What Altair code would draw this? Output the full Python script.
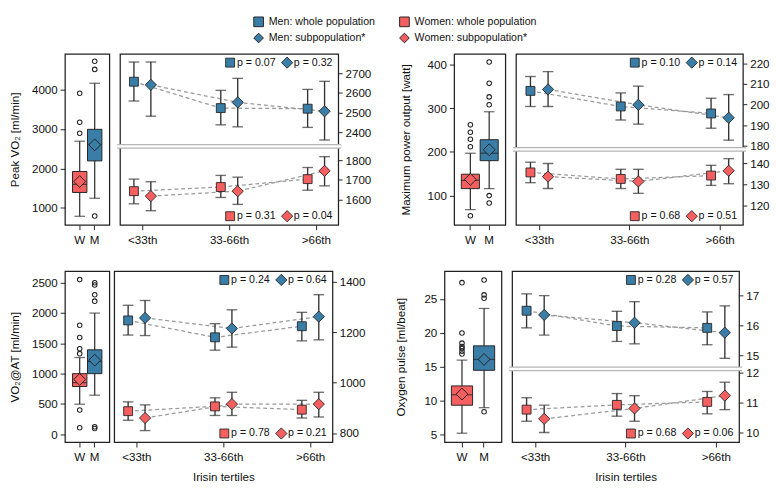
import altair as alt
import pandas as pd

FONT = "Liberation Sans, Arial, Helvetica, sans-serif"
BLUE = "#3a7ea8"
RED = "#f65f5f"
INK = "#222222"
WHISK = "#333333"

tertile_labels = ["<33th", "33-66th", ">66th"]
series_names = ["Men: whole population", "Men: subpopulation*",
                "Women: whole population", "Women: subpopulation*"]
series_colors = [BLUE, BLUE, RED, RED]
series_shapes = ["square", "diamond", "square", "diamond"]

# box stats: [whisker low, q1, median, q3, whisker high, mean]
# tertile values: [mean, lower, upper]

# ---- Peak VO2 ----
peak_box_W = [787, 1392, 1597, 1924, 2692, 1670]
peak_box_M = [1245, 2193, 2610, 2994, 4163, 2600]
peak_out_W = [3910, 3174, 2896]
peak_out_M = [4720, 4515, 795]
peak_men_whole = [[2657, 2559, 2757], [2523, 2438, 2613], [2520, 2425, 2618]]
peak_men_sub = [[2641, 2482, 2757], [2552, 2428, 2674], [2507, 2361, 2659]]
peak_women_whole = [[1643, 1579, 1704], [1664, 1611, 1723], [1704, 1648, 1763]]
peak_women_sub = [[1618, 1544, 1691], [1643, 1576, 1714], [1746, 1670, 1818]]
peak_p = ["0.07", "0.32", "0.31", "0.04"]

# ---- Maximum power output ----
power_box_W = [68, 116, 135, 149, 197, 137]
power_box_M = [116, 180, 197, 228, 292, 205]
power_out_W = [262, 245, 229, 212, 54]
power_out_M = [406, 357, 326, 308, 100, 83]
power_men_whole = [[206.7, 199.1, 213.7], [199.1, 192.5, 205.7], [195.7, 188.5, 203.1]]
power_men_sub = [[207.4, 199.1, 216.1], [199.9, 190.5, 209.0], [193.6, 182.7, 204.9]]
power_women_whole = [[135.7, 130.8, 140.6], [132.6, 128.0, 137.2], [134.2, 129.5, 139.1]]
power_women_sub = [[133.7, 128.0, 140.0], [131.4, 125.7, 137.2], [136.5, 130.3, 142.3]]
power_p = ["0.10", "0.14", "0.68", "0.51"]

# ---- VO2 at AT ----
at_box_W = [495, 787, 851, 1000, 1266, 904]
at_box_M = [644, 1000, 1202, 1394, 2000, 1223]
at_out_W = [2553, 1798, 1596, 1410, 1330, 399, 106]
at_out_M = [2500, 2463, 2303, 2197, 122, 95]
at_men_whole = [[1247, 1189, 1307], [1180, 1129, 1234], [1224, 1166, 1279]]
at_men_sub = [[1257, 1187, 1326], [1215, 1141, 1289], [1262, 1170, 1349]]
at_women_whole = [[887, 851, 924], [906, 870, 940], [893, 860, 930]]
at_women_sub = [[860, 810, 912], [915, 870, 962], [915, 864, 962]]
at_p = ["0.24", "0.64", "0.78", "0.21"]

# ---- Oxygen pulse ----
pulse_box_W = [5.24, 9.36, 10.9, 12.2, 16.0, 11.0]
pulse_box_M = [9.0, 14.5, 16.1, 18.1, 23.6, 16.1]
pulse_out_W = [27.4, 20.0, 18.5, 18.0, 17.7, 17.3, 16.9]
pulse_out_M = [27.8, 25.6, 25.1, 8.4]
pulse_men_whole = [[16.49, 15.92, 17.05], [15.98, 15.47, 16.47], [15.92, 15.36, 16.45]]
pulse_men_sub = [[16.35, 15.68, 16.99], [16.09, 15.39, 16.79], [15.76, 14.91, 16.65]]
pulse_women_whole = [[10.76, 10.37, 11.16], [10.92, 10.54, 11.30], [11.02, 10.62, 11.37]]
pulse_women_sub = [[10.45, 9.99, 10.91], [10.80, 10.37, 11.23], [11.23, 10.76, 11.68]]
pulse_p = ["0.28", "0.57", "0.68", "0.06"]

H = 177

LEG = alt.Legend(title=None, orient="none", legendX=195, legendY=-39, columns=2,
                 columnPadding=22, rowPadding=2, labelFontSize=11, labelFont=FONT,
                 labelColor="#111", symbolSize=100, symbolStrokeColor=INK,
                 symbolStrokeWidth=1, labelOffset=5, padding=0)

label_expr = "datum.value == 1 ? '%s' : (datum.value == 2 ? '%s' : '%s')" % tuple(tertile_labels)


def box_panel(cfg, stats_W, stats_M, out_W, out_M, title):
    keys = ["lo", "q1", "med", "q3", "hi", "mean"]
    rW = dict(zip(keys, stats_W)); rW.update(sex="W", fill=RED)
    rM = dict(zip(keys, stats_M)); rM.update(sex="M", fill=BLUE)
    df = pd.DataFrame([rW, rM])
    odf = pd.DataFrame([{"sex": "W", "v": v} for v in out_W] + [{"sex": "M", "v": v} for v in out_M])
    bw, po = cfg["box_w"], cfg["po"]
    step = bw / (2 + 2 * po)
    X = alt.X("sex:N", sort=["W", "M"],
              scale=alt.Scale(domain=["W", "M"], paddingInner=0.04, paddingOuter=po),
              axis=alt.Axis(title=None, labelAngle=0, tickSize=5, labelPadding=5, domain=False, grid=False))
    ysc = alt.Scale(domain=cfg["box_dom"], nice=False, zero=False)
    yax = alt.Axis(values=cfg["box_ticks"], format="d", title=title, titleX=cfg["titleX"], titleY=H / 2,
                   titleAngle=-90, titleAlign="center", titleBaseline="bottom", labelOverlap=False,
                   tickSize=5, labelPadding=3, domain=False, grid=False)

    def Y(field):
        return alt.Y(field, scale=ysc, axis=yax, title=title)

    base = alt.Chart(df)
    whisk = base.mark_rule(color=WHISK, strokeWidth=1.3).encode(x=X, y=Y("lo:Q"), y2="hi:Q")
    cap_lo = base.mark_tick(orient="horizontal", size=11, thickness=1.3, color=WHISK).encode(
        x=X, y=Y("lo:Q"))
    cap_hi = base.mark_tick(orient="horizontal", size=11, thickness=1.3, color=WHISK).encode(
        x=X, y=Y("hi:Q"))
    box = base.mark_bar(stroke=INK, strokeWidth=1, opacity=1).encode(
        x=X, y=Y("q1:Q"), y2="q3:Q", color=alt.Color("fill:N", scale=None))
    med = base.mark_tick(orient="horizontal", size=step * 0.96, thickness=1.3, color=INK).encode(
        x=X, y=Y("med:Q"))
    mean = base.mark_point(shape="diamond", filled=True, size=150, stroke=INK, strokeWidth=1,
                           opacity=1).encode(
        x=X, y=Y("mean:Q"), color=alt.Color("fill:N", scale=None))
    outl = alt.Chart(odf).mark_point(shape="circle", size=22, filled=False, color=INK,
                                     strokeWidth=1.1, opacity=1).encode(
        x=X, y=Y("v:Q"))
    return alt.layer(whisk, cap_lo, cap_hi, box, med, mean, outl).properties(width=bw, height=H)


def main_panel(cfg, men_whole, men_sub, women_whole, women_sub, pvals, xtitle):
    rows = []
    for sex, grp, vals in [("Men", "whole", men_whole), ("Men", "sub", men_sub),
                           ("Women", "whole", women_whole), ("Women", "sub", women_sub)]:
        name = "%s: %s" % (sex, "whole population" if grp == "whole" else "subpopulation*")
        for i, (m, lo, hi) in enumerate(vals):
            rows.append(dict(sex=sex, grp=grp, series=name, t=i + 1, mean=m, lo=lo, hi=hi))
    df = pd.DataFrame(rows)
    W = cfg["main_w"]
    xax = alt.Axis(values=[1, 2, 3], labelExpr=label_expr, title=xtitle, tickSize=5,
                   labelPadding=5, domain=False, grid=False, titlePadding=10)
    X = alt.X("xpos:Q", scale=alt.Scale(domain=[0.745, 3.258], nice=False, zero=False), axis=xax)
    layers = []
    for sex, dom, ticks in [("Men", cfg["men_dom"], cfg["men_ticks"]),
                            ("Women", cfg["women_dom"], cfg["women_ticks"])]:
        base = alt.Chart(df).transform_filter(alt.datum.sex == sex).transform_calculate(
            xpos="datum.t + (datum.grp == 'whole' ? -0.095 : 0.1)",
            sz="datum.grp == 'whole' ? 85 : 135")
        ysc = alt.Scale(domain=dom, nice=False, zero=False)
        yax = alt.Axis(orient="right", values=ticks, format="d", title=None, tickSize=4, labelPadding=3,
                       labelOverlap=False, domain=False, grid=False) if ticks else None
        line = base.mark_line(color="#9a9a9a", strokeDash=[4, 3], strokeWidth=1.3).encode(
            x=X, y=alt.Y("mean:Q", scale=ysc, axis=None), detail="grp:N", order="t:Q")
        bar = base.mark_rule(color=WHISK, strokeWidth=1.4).encode(
            x=X, y=alt.Y("lo:Q", scale=ysc, axis=None), y2="hi:Q")
        cap_lo = base.mark_tick(orient="horizontal", size=11, thickness=1.4, color=WHISK).encode(
            x=X, y=alt.Y("lo:Q", scale=ysc, axis=None))
        cap_hi = base.mark_tick(orient="horizontal", size=11, thickness=1.4, color=WHISK).encode(
            x=X, y=alt.Y("hi:Q", scale=ysc, axis=None))
        pts = base.mark_point(filled=True, opacity=1, stroke=INK, strokeWidth=0.9).encode(
            x=X, y=alt.Y("mean:Q", scale=ysc, axis=yax),
            color=alt.Color("series:N", scale=alt.Scale(domain=series_names, range=series_colors), legend=LEG),
            shape=alt.Shape("series:N", scale=alt.Scale(domain=series_names, range=series_shapes), legend=LEG),
            size=alt.Size("sz:Q", scale=None))
        layers += [line, bar, cap_lo, cap_hi, pts]
    # break marker
    if cfg.get("brk") is not None:
        bdf = pd.DataFrame({"b": [cfg["brk"]]})
        ysc = alt.Scale(domain=cfg["men_dom"], nice=False, zero=False)
        for col, sw in [("#b5b5b5", 5), ("white", 2.4)]:
            layers.append(alt.Chart(bdf).mark_rule(color=col, strokeWidth=sw).encode(
                x=alt.value(-3), x2=alt.value(W + 3), y=alt.Y("b:Q", scale=ysc, axis=None)))
    # p-value keys
    for j, (color, shape, ypix) in enumerate([(BLUE, "square", 9), (BLUE, "diamond", 9),
                                               (RED, "square", H - 9), (RED, "diamond", H - 9)]):
        xs = W - 112 if shape == "square" else W - 53
        sz = 85 if shape == "square" else 135
        pdf = pd.DataFrame({"p": ["p = " + pvals[j]]})
        layers.append(alt.Chart(pdf).mark_point(shape=shape, filled=True, fill=color, stroke=INK,
                                                strokeWidth=0.9, size=sz, opacity=1).encode(
            x=alt.value(xs), y=alt.value(ypix)))
        layers.append(alt.Chart(pdf).mark_text(align="left", baseline="middle", fontSize=11,
                                               font=FONT, color="#111").encode(
            x=alt.value(xs + 7), y=alt.value(ypix), text="p:N"))
    return alt.layer(*layers).resolve_scale(y="independent").properties(width=W, height=H)


cfg_peak = dict(box_w=46, po=0.5, main_w=226, box_dom=[569, 4907], box_ticks=[1000, 2000, 3000, 4000],
                men_dom=[1930, 2798], women_dom=[1472, 2339], men_ticks=[2400, 2500, 2600, 2700],
                women_ticks=[1600, 1700, 1800], brk=2329, titleX=-45)
cfg_power = dict(box_w=53, po=0.38, main_w=235, box_dom=[33, 424.3], box_ticks=[100, 200, 300, 400],
                 men_dom=[141.4, 224.7], women_dom=[110.6, 192.4], men_ticks=[180, 190, 200, 210, 220],
                 women_ticks=[120, 130, 140], brk=178.2, titleX=-43)
cfg_at = dict(box_w=46, po=0.5, main_w=226, box_dom=[-132, 2691], box_ticks=[0, 500, 1000, 1500, 2000, 2500],
              men_dom=[764, 1442], women_dom=[764, 1442], men_ticks=[800, 1000, 1200, 1400],
              women_ticks=None, brk=None, titleX=-45)
cfg_pulse = dict(box_w=59, po=0.31, main_w=235, box_dom=[3.92, 29.08], box_ticks=[5, 10, 15, 20, 25],
                 men_dom=[12.125, 17.80], women_dom=[9.666, 15.41], men_ticks=[15, 16, 17],
                 women_ticks=[10, 11, 12], brk=14.56, titleX=-38.6)

tl = alt.hconcat(box_panel(cfg_peak, peak_box_W, peak_box_M, peak_out_W, peak_out_M, "Peak VO\u2082 [ml/min]"),
                 main_panel(cfg_peak, peak_men_whole, peak_men_sub, peak_women_whole, peak_women_sub, peak_p, None),
                 spacing=3)
tr = alt.hconcat(box_panel(cfg_power, power_box_W, power_box_M, power_out_W, power_out_M, "Maximum power output [watt]"),
                 main_panel(cfg_power, power_men_whole, power_men_sub, power_women_whole, power_women_sub, power_p, None),
                 spacing=3)
bl = alt.hconcat(box_panel(cfg_at, at_box_W, at_box_M, at_out_W, at_out_M, "VO\u2082@AT [ml/min]"),
                 main_panel(cfg_at, at_men_whole, at_men_sub, at_women_whole, at_women_sub, at_p, "Irisin tertiles"),
                 spacing=3)
br = alt.hconcat(box_panel(cfg_pulse, pulse_box_W, pulse_box_M, pulse_out_W, pulse_out_M, "Oxygen pulse [ml/beat]"),
                 main_panel(cfg_pulse, pulse_men_whole, pulse_men_sub, pulse_women_whole, pulse_women_sub, pulse_p, "Irisin tertiles"),
                 spacing=3)

row1 = alt.hconcat(tl, tr, spacing=28)
row2 = alt.hconcat(bl, br, spacing=28)

chart = alt.vconcat(row1, row2, spacing=25).properties(
    padding={"left": 0, "top": 0, "right": 0, "bottom": 0}, background="white"
).configure_view(stroke=INK, strokeWidth=1.3).configure_axis(
    labelFont=FONT, titleFont=FONT, labelFontSize=12, titleFontSize=12, labelOverlap=False,
    labelColor="#111", titleColor="#111", tickColor=INK, tickWidth=1, titleFontWeight="normal"
)

chart.save("out.html", embed_options={"renderer": "svg", "actions": False})
